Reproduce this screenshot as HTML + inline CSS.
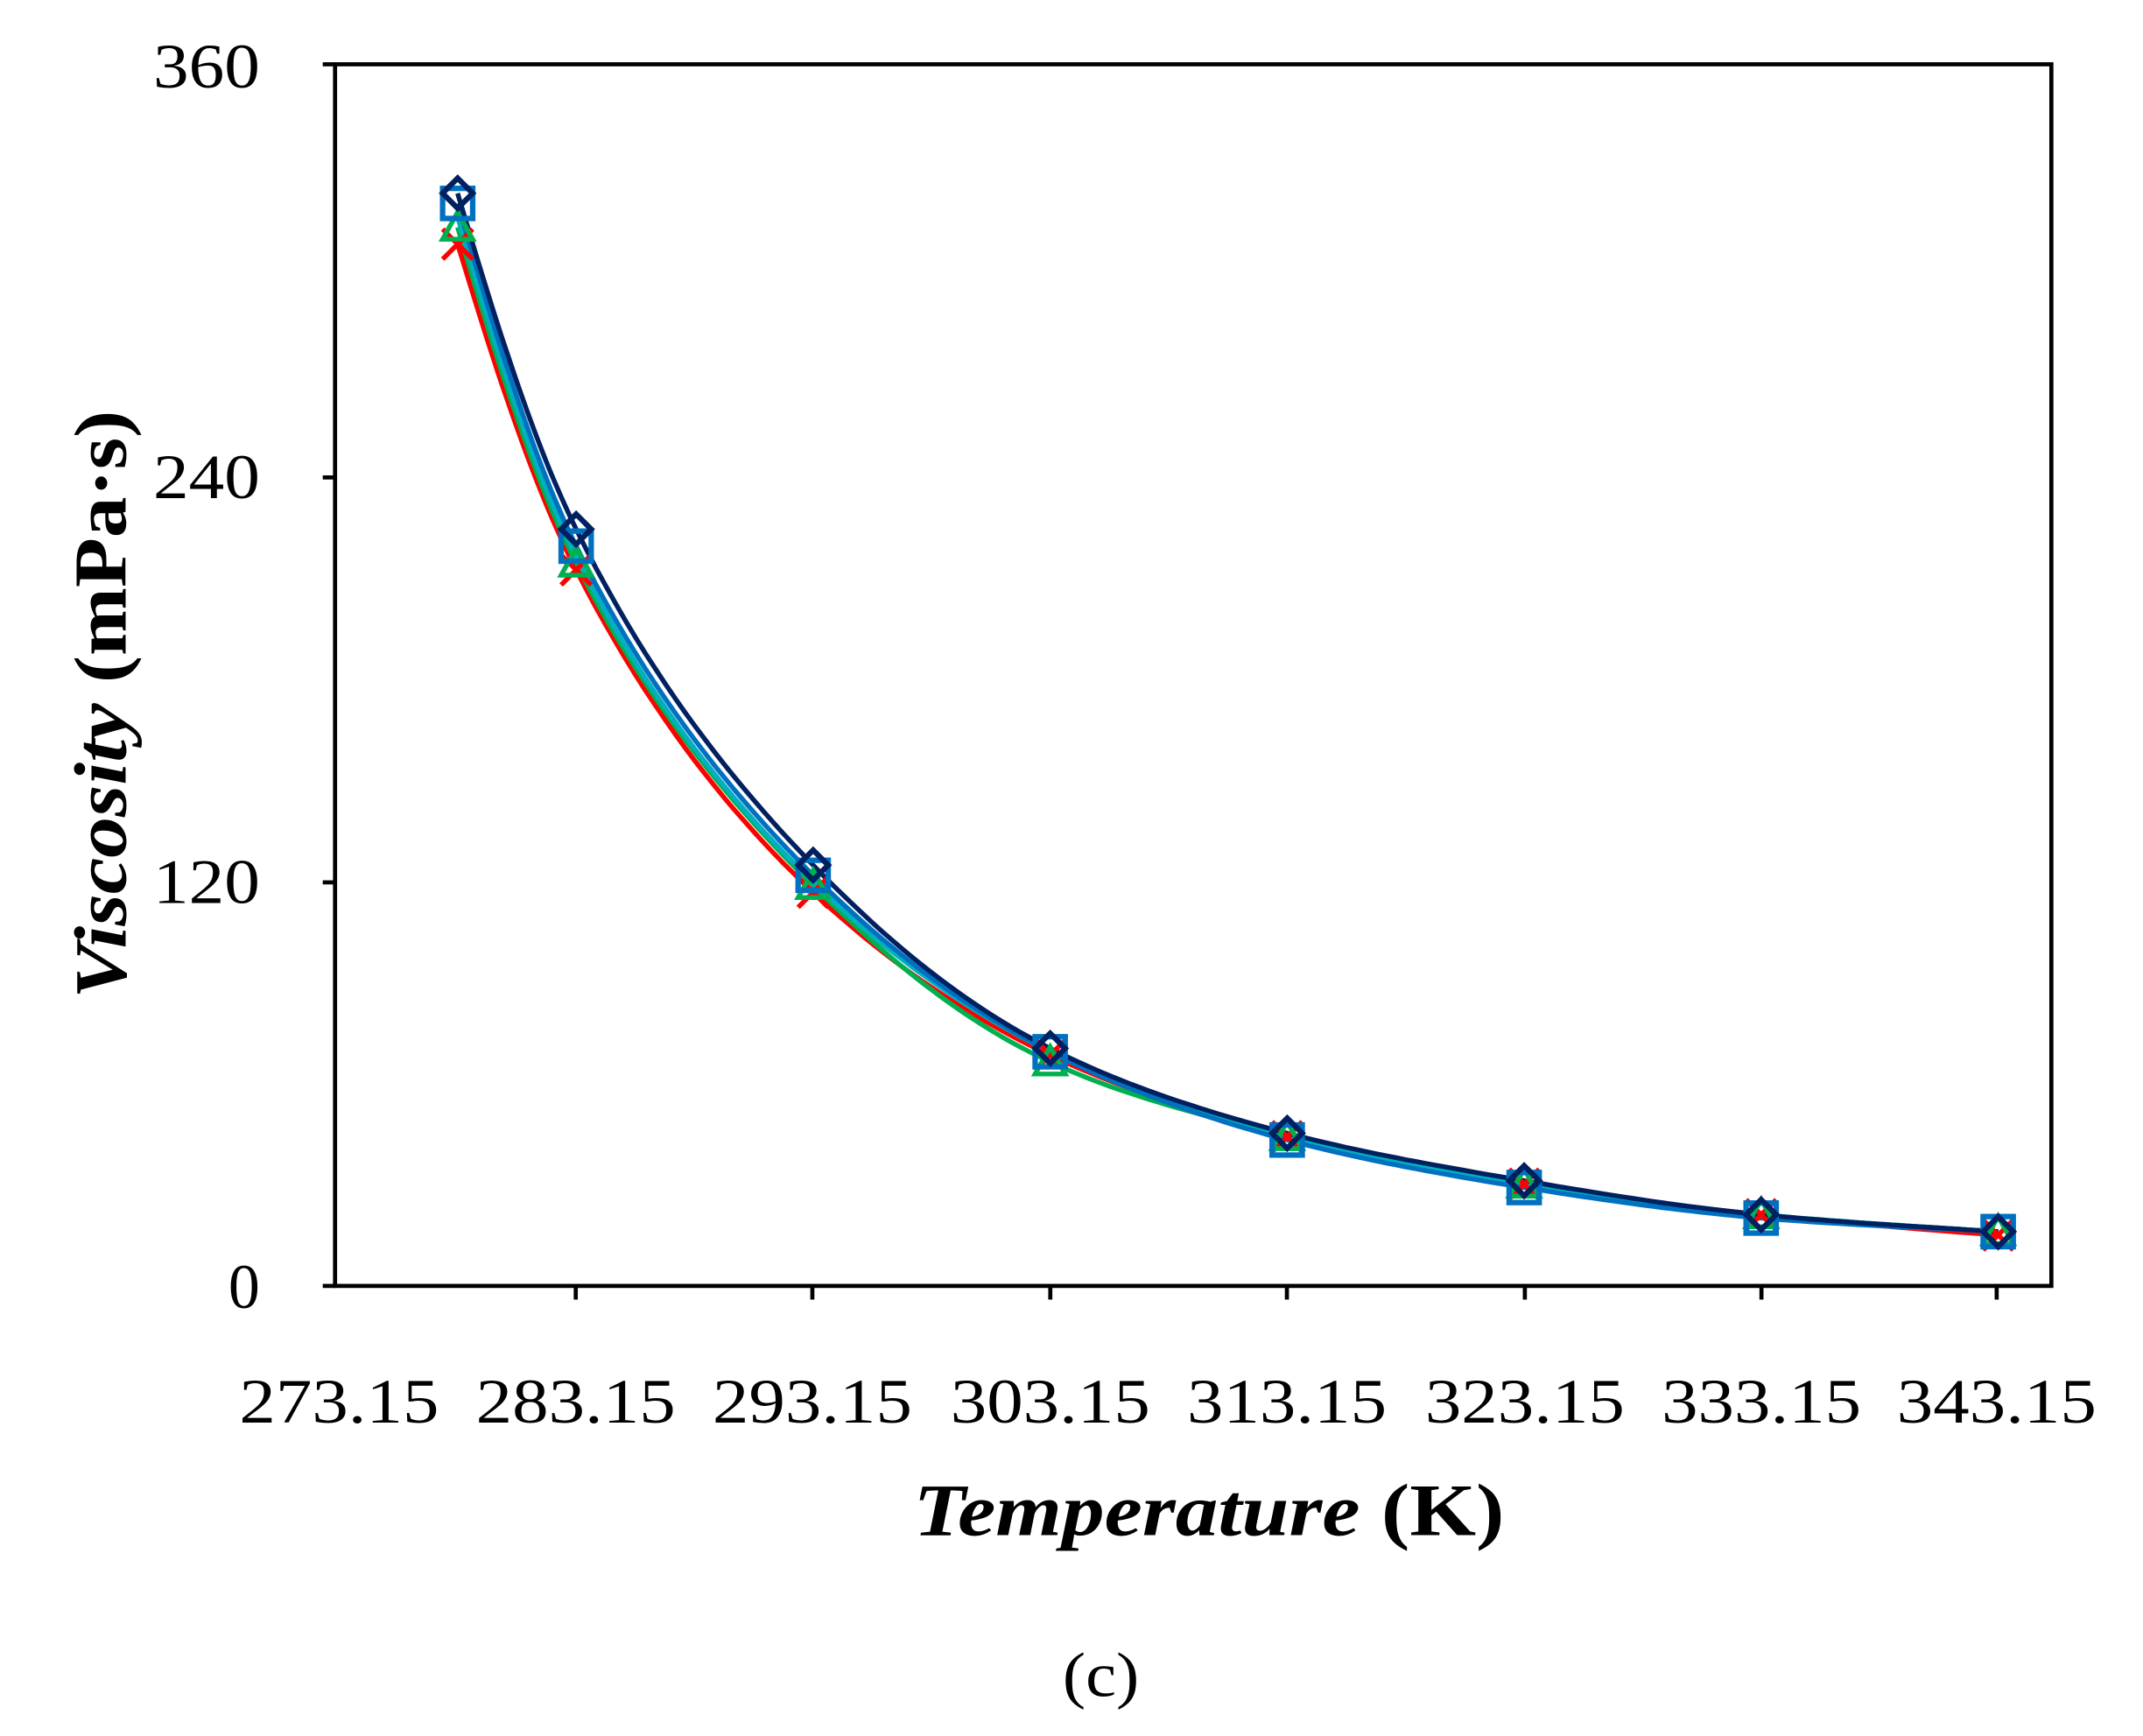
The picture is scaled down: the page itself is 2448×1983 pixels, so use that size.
<!DOCTYPE html>
<html><head><meta charset="utf-8"><style>
html,body{margin:0;padding:0;background:#fff;}
svg{display:block;}
text{font-family:"Liberation Serif",serif;fill:#000;}
</style></head><body>
<svg id="s" width="2448" height="1983" viewBox="0 0 1567 1269" preserveAspectRatio="none" xmlns="http://www.w3.org/2000/svg">
<rect x="0" y="0" width="1567" height="1269" fill="#fff"/>
<g id="curves"></g>
<rect x="245" y="47" width="1255" height="893" fill="none" stroke="#000" stroke-width="3"/>
<g stroke="#000" stroke-width="3">
<line x1="236" y1="47" x2="245" y2="47"/><line x1="236" y1="349" x2="245" y2="349"/><line x1="236" y1="645" x2="245" y2="645"/><line x1="236" y1="940" x2="245" y2="940"/>
<line x1="421" y1="940" x2="421" y2="950"/><line x1="594" y1="940" x2="594" y2="950"/><line x1="768" y1="940" x2="768" y2="950"/><line x1="941" y1="940" x2="941" y2="950"/><line x1="1115" y1="940" x2="1115" y2="950"/><line x1="1288" y1="940" x2="1288" y2="950"/><line x1="1460" y1="940" x2="1460" y2="950"/>
</g>
<g font-size="46" text-anchor="end">
<text x="190" y="64" textLength="78" lengthAdjust="spacingAndGlyphs">360</text><text x="190" y="364" textLength="78" lengthAdjust="spacingAndGlyphs">240</text><text x="190" y="660" textLength="78" lengthAdjust="spacingAndGlyphs">120</text><text x="190" y="956">0</text>
</g>
<g font-size="46" text-anchor="middle">
<text x="248" y="1040" textLength="146" lengthAdjust="spacingAndGlyphs">273.15</text><text x="421" y="1040" textLength="146" lengthAdjust="spacingAndGlyphs">283.15</text><text x="594" y="1040" textLength="146" lengthAdjust="spacingAndGlyphs">293.15</text><text x="768" y="1040" textLength="146" lengthAdjust="spacingAndGlyphs">303.15</text><text x="941" y="1040" textLength="146" lengthAdjust="spacingAndGlyphs">313.15</text><text x="1115" y="1040" textLength="146" lengthAdjust="spacingAndGlyphs">323.15</text><text x="1288" y="1040" textLength="146" lengthAdjust="spacingAndGlyphs">333.15</text><text x="1460" y="1040" textLength="146" lengthAdjust="spacingAndGlyphs">343.15</text>
</g>
<text x="884" y="1122" font-size="54" text-anchor="middle" font-weight="bold" textLength="432" lengthAdjust="spacingAndGlyphs"><tspan font-style="italic">Temperature</tspan> (K)</text>
<text transform="translate(92,515) rotate(-90)" font-size="54" text-anchor="middle" font-weight="bold" textLength="430" lengthAdjust="spacingAndGlyphs"><tspan font-style="italic">Viscosity</tspan> (mPa·s)</text>
<text x="805" y="1240" font-size="46" text-anchor="middle" textLength="56" lengthAdjust="spacingAndGlyphs">(c)</text>
</svg>
<script>
(function(){
var ns="http://www.w3.org/2000/svg",g=document.getElementById("curves");
function X(T){return 248+(T-273.15)*17.33;}
function Y(v){return 940-v*(893/360);}
var Ts=[278.15,283.15,293.15,303.15,313.15,323.15,333.15,343.15];
var series=[
 {c:"#ff0000",v:[307,211,116,68,44,30,21,15],m:"x"},
 {c:"#00b050",v:[312,213,118,66,44,30,21,16],m:"t"},
 {c:"#00b0c0",v:[315,215,119,69,44,30,21,16],m:"n"},
 {c:"#0070c0",v:[319,218,121,69,43,29,20,16],m:"s"},
 {c:"#002060",v:[322,223,124,70,45,31,21,16],m:"d"}];
function el(n,a){var e=document.createElementNS(ns,n);for(var k in a)e.setAttribute(k,a[k]);g.appendChild(e);return e;}
series.forEach(function(s){
 var L=s.v.map(Math.log),n=L.length,m=[],pts=[];
 for(var i=0;i<n;i++){
  var a=Math.max(i-1,0),b=Math.min(i+1,n-1);
  m.push((L[b]-L[a])/(Ts[b]-Ts[a]));
 }
 for(var i=0;i<n-1;i++){
  var h=Ts[i+1]-Ts[i];
  for(var k=0;k<24;k++){var t=k/24,t2=t*t,t3=t2*t;
   var v=(2*t3-3*t2+1)*L[i]+(t3-2*t2+t)*h*m[i]+(-2*t3+3*t2)*L[i+1]+(t3-t2)*h*m[i+1];
   pts.push(X(Ts[i]+h*t).toFixed(1)+","+Y(Math.exp(v)).toFixed(1));}
 }
 pts.push(X(343.15)+","+Y(s.v[7]));
 el("polyline",{points:pts.join(" "),fill:"none",stroke:s.c,"stroke-width":3.5,"stroke-linejoin":"round"});
});
series.forEach(function(s){
 s.v.forEach(function(v,i){var x=X(Ts[i]),y=Y(v),r=11;
  if(s.m=="x"){el("path",{d:"M"+(x-r)+","+(y-r)+"L"+(x+r)+","+(y+r)+"M"+(x-r)+","+(y+r)+"L"+(x+r)+","+(y-r),stroke:s.c,"stroke-width":3.5,fill:"none"});}
  else if(s.m=="t"){el("path",{d:"M"+x+","+(y-r)+"L"+(x+r)+","+(y+r*0.8)+"L"+(x-r)+","+(y+r*0.8)+"Z",stroke:s.c,"stroke-width":3.5,fill:"none"});}
  else if(s.m=="s"){el("rect",{x:x-r,y:y-r,width:2*r,height:2*r,stroke:s.c,"stroke-width":4,fill:"none"});}
  else if(s.m=="d"){el("path",{d:"M"+x+","+(y-r)+"L"+(x+r)+","+y+"L"+x+","+(y+r)+"L"+(x-r)+","+y+"Z",stroke:s.c,"stroke-width":4,fill:"none"});}
 });
});
})();
</script>
</body></html>
